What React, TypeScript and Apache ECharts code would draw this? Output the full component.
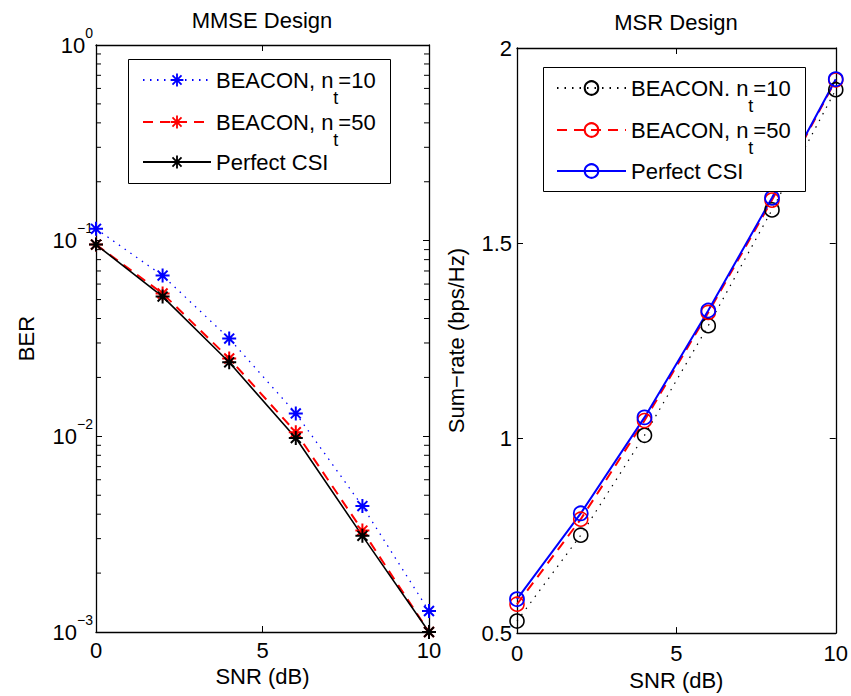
import React, { useEffect, useRef } from "react";
import * as echarts from "echarts";

// SNR points (dB) shared by both panels
const snr = [0, 2, 4, 6, 8, 10];

// MMSE design: bit error rate
const berNt10 = [0.115, 0.0663, 0.0316, 0.0131, 0.0044, 0.00128];
const berNt50 = [0.0955, 0.0537, 0.025, 0.0105, 0.0033, 0.001];
const berPerfect = [0.0955, 0.0518, 0.0239, 0.0098, 0.0031, 0.001];

// MSR design: sum-rate (bps/Hz)
const rateNt10 = [0.531, 0.751, 1.007, 1.288, 1.585, 1.893];
const rateNt50 = [0.574, 0.792, 1.045, 1.322, 1.61, 1.918];
const ratePerfect = [0.587, 0.807, 1.053, 1.327, 1.616, 1.92];

// minor ticks of the logarithmic BER axis
const berMinorTicks = [
  0.002, 0.003, 0.004, 0.005, 0.006, 0.007, 0.008, 0.009,
  0.02, 0.03, 0.04, 0.05, 0.06, 0.07, 0.08, 0.09,
  0.2, 0.3, 0.4, 0.5, 0.6, 0.7, 0.8, 0.9,
];

const legendLabels: Record<string, string> = {
  L10: "{a|BEACON, n}{s|t}{a|=10}",
  L50: "{a|BEACON, n}{s|t}{a|=50}",
  LPC: "{a|Perfect CSI}",
  R10: "{a|BEACON. n}{s|t}{a|=10}",
  R50: "{a|BEACON, n}{s|t}{a|=50}",
  RPC: "{a|Perfect CSI}",
};

const FONT = "'Liberation Sans', Arial, Helvetica, sans-serif";
const BLUE = "#0000ff";
const RED = "#ff0000";
const BLACK = "#000000";

// eight-armed asterisk marker
const ASTERISK =
  "path://M-1,-7L1,-7L1,7L-1,7Z M-7,-1L7,-1L7,1L-7,1Z " +
  "M-4.243,-5.657L5.657,4.243L4.243,5.657L-5.657,-4.243Z " +
  "M-5.657,4.243L4.243,-5.657L5.657,-4.243L-4.243,5.657Z";

const pairs = (ys: number[]) => snr.map((x, i) => [x, ys[i]]);

const baseText = { fontFamily: FONT, color: BLACK, fontSize: 22 };

const axisLine = { show: true, onZero: false, lineStyle: { color: BLACK, width: 1.3 } };
const axisTick = { show: true, inside: true, length: 6, lineStyle: { color: BLACK, width: 1 } };

function supExp(v: number) {
  const e = Math.round(Math.log10(v));
  const s = e < 0 ? "\u2212" + Math.abs(e) : String(e);
  return `{b|10}{e|${s}}`;
}

function legendRow(name: string, left: number, center: number, itemWidth: number, itemHeight: number) {
  const hasSub = legendLabels[name].indexOf("{s|") >= 0;
  return {
    data: [name],
    left,
    top: center - (hasSub ? 27 : 12),
    padding: 0,
    orient: "horizontal",
    itemWidth,
    itemHeight,
    selectedMode: false,
    z: 20,
    formatter: (n: string) => legendLabels[n],
    textStyle: {
      ...baseText,
      rich: {
        a: { ...baseText, lineHeight: 24 },
        s: { ...baseText, fontSize: 18, lineHeight: 18, padding: [36, 0, 0, 0] },
      },
    },
  };
}

export default function App() {
  const ref = useRef<HTMLDivElement>(null);

  useEffect(() => {
    if (!ref.current) return;
    const chart = echarts.init(ref.current, undefined, { renderer: "svg" });

    const option: any = {
      animation: false,
      backgroundColor: "#ffffff",
      title: [
        { text: "MMSE Design", left: 262, top: 9, textAlign: "center", padding: 0, textStyle: { ...baseText, fontWeight: "normal" } },
        { text: "MSR Design", left: 676, top: 11, textAlign: "center", padding: 0, textStyle: { ...baseText, fontWeight: "normal" } },
      ],
      grid: [
        { left: 96, top: 45, width: 333, height: 587 },
        { left: 517, top: 48, width: 319, height: 586 },
      ],
      xAxis: [
        {
          gridIndex: 0, type: "value", min: 0, max: 10, interval: 5, position: "bottom",
          axisLine, axisTick, splitLine: { show: false },
          axisLabel: { ...baseText, margin: 7 },
          name: "SNR (dB)", nameLocation: "middle", nameGap: 27, nameTextStyle: baseText,
        },
        {
          gridIndex: 0, type: "value", min: 0, max: 10, interval: 5, position: "top",
          axisLine, axisTick, splitLine: { show: false }, axisLabel: { show: false },
        },
        {
          gridIndex: 1, type: "value", min: 0, max: 10, interval: 5, position: "bottom",
          axisLine, axisTick, splitLine: { show: false },
          axisLabel: { ...baseText, margin: 9 },
          name: "SNR (dB)", nameLocation: "middle", nameGap: 33, nameTextStyle: baseText,
        },
        {
          gridIndex: 1, type: "value", min: 0, max: 10, interval: 5, position: "top",
          axisLine, axisTick, splitLine: { show: false }, axisLabel: { show: false },
        },
      ],
      yAxis: [
        {
          gridIndex: 0, type: "log", logBase: 10, min: 0.001, max: 1, position: "left",
          axisLine, axisTick, splitLine: { show: false },
          axisLabel: {
            margin: 3,
            formatter: (v: number) => supExp(v),
            rich: {
              b: { ...baseText },
              e: { ...baseText, fontSize: 14, padding: [0, 0, 25, 0] },
            },
          },
          name: "BER", nameLocation: "middle", nameGap: 59, nameTextStyle: baseText,
        },
        {
          gridIndex: 0, type: "log", logBase: 10, min: 0.001, max: 1, position: "right",
          axisLine, axisTick, splitLine: { show: false }, axisLabel: { show: false },
        },
        {
          gridIndex: 1, type: "value", min: 0.5, max: 2, interval: 0.5, position: "left",
          axisLine, axisTick, splitLine: { show: false },
          axisLabel: { ...baseText, margin: 5 },
          name: "Sum\u2212rate (bps/Hz)", nameLocation: "middle", nameGap: 50, nameTextStyle: baseText,
        },
        {
          gridIndex: 1, type: "value", min: 0.5, max: 2, interval: 0.5, position: "right",
          axisLine, axisTick, splitLine: { show: false }, axisLabel: { show: false },
        },
      ],
      legend: [
        legendRow("L10", 142, 80, 68, 16),
        legendRow("L50", 142, 122, 68, 16),
        legendRow("LPC", 142, 163, 68, 16),
        legendRow("R10", 556, 88, 69, 17),
        legendRow("R50", 556, 130, 69, 17),
        legendRow("RPC", 556, 172, 69, 17),
      ],
      graphic: [
        { type: "rect", z: 15, shape: { x: 128.5, y: 59.5, width: 262, height: 124 }, style: { fill: "#fff", stroke: BLACK, lineWidth: 1 } },
        { type: "rect", z: 15, shape: { x: 543.5, y: 67.5, width: 262, height: 124 }, style: { fill: "#fff", stroke: BLACK, lineWidth: 1 } },
      ],
      series: [
        {
          type: "custom", xAxisIndex: 0, yAxisIndex: 0, silent: true, clip: false, z: 3,
          data: berMinorTicks.map((v) => [0, v]),
          renderItem: (_p: any, api: any) => {
            const v = api.value(1);
            const l = api.coord([0, v]);
            const r = api.coord([10, v]);
            return {
              type: "group",
              children: [
                { type: "line", shape: { x1: l[0], y1: l[1], x2: l[0] + 5, y2: l[1] }, style: { stroke: BLACK, lineWidth: 1 } },
                { type: "line", shape: { x1: r[0] - 5, y1: r[1], x2: r[0], y2: r[1] }, style: { stroke: BLACK, lineWidth: 1 } },
              ],
            };
          },
        },
        {
          name: "L10", type: "line", xAxisIndex: 0, yAxisIndex: 0, clip: false,
          data: pairs(berNt10), symbol: ASTERISK, symbolSize: 14,
          itemStyle: { color: BLUE },
          lineStyle: { color: BLUE, width: 1.3, type: [1.5, 5.5] },
        },
        {
          name: "L50", type: "line", xAxisIndex: 0, yAxisIndex: 0, clip: false,
          data: pairs(berNt50), symbol: ASTERISK, symbolSize: 14,
          itemStyle: { color: RED },
          lineStyle: { color: RED, width: 2, type: [10, 7] },
        },
        {
          name: "LPC", type: "line", xAxisIndex: 0, yAxisIndex: 0, clip: false,
          data: pairs(berPerfect), symbol: ASTERISK, symbolSize: 14,
          itemStyle: { color: BLACK },
          lineStyle: { color: BLACK, width: 1.6, type: "solid" },
        },
        {
          name: "R10", type: "line", xAxisIndex: 2, yAxisIndex: 2, clip: false,
          data: pairs(rateNt10), symbol: "circle", symbolSize: 14,
          itemStyle: { color: "transparent", borderColor: BLACK, borderWidth: 1.6 },
          lineStyle: { color: BLACK, width: 1.2, type: [1.5, 6] },
        },
        {
          name: "R50", type: "line", xAxisIndex: 2, yAxisIndex: 2, clip: false,
          data: pairs(rateNt50), symbol: "circle", symbolSize: 14,
          itemStyle: { color: "transparent", borderColor: RED, borderWidth: 1.6 },
          lineStyle: { color: RED, width: 2, type: [10, 7] },
        },
        {
          name: "RPC", type: "line", xAxisIndex: 2, yAxisIndex: 2, clip: false,
          data: pairs(ratePerfect), symbol: "circle", symbolSize: 14,
          itemStyle: { color: "transparent", borderColor: BLUE, borderWidth: 1.8 },
          lineStyle: { color: BLUE, width: 2, type: "solid" },
        },
      ],
    };

    chart.setOption(option);
    return () => chart.dispose();
  }, []);

  return (
    <div
      ref={ref}
      style={{ position: "absolute", left: 0, top: 0, width: 851, height: 696, background: "#fff" }}
    />
  );
}
